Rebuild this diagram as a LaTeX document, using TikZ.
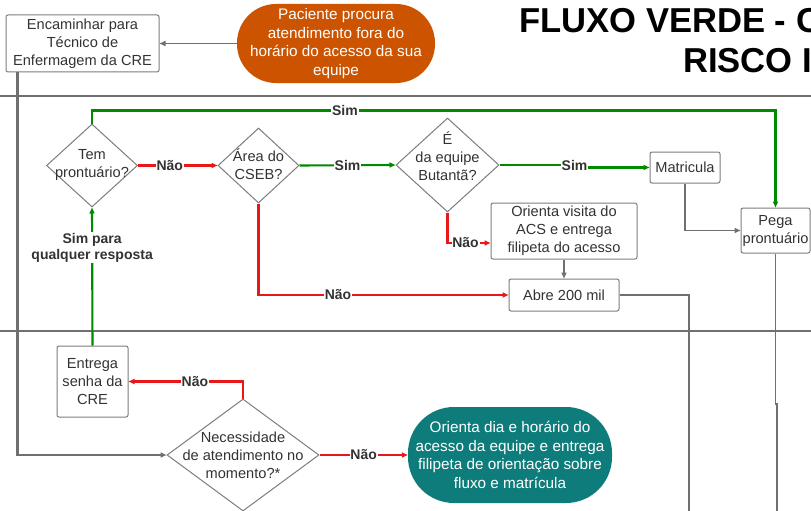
\documentclass[tikz,border=0pt]{standalone}
\usepackage{fontspec}
\setmainfont{Liberation Sans}
\usetikzlibrary{shapes.geometric,arrows.meta}
\definecolor{txtc}{RGB}{51,51,51}
\definecolor{bordc}{RGB}{125,125,125}
\definecolor{linec}{RGB}{112,112,112}
\definecolor{redc}{RGB}{232,24,24}
\definecolor{greenc}{RGB}{0,138,0}
\definecolor{orangec}{RGB}{204,84,0}
\definecolor{tealc}{RGB}{14,124,122}
\tikzset{
  boxtxt/.style={font=\fontsize{14.6}{18}\selectfont, text=txtc, align=center},
  box/.style={boxtxt, draw=bordc, line width=1pt, rounded corners=2pt, fill=white, inner sep=0pt},
  dia/.style={diamond, draw=bordc, line width=1pt, inner sep=0pt},
  diatxt/.style={boxtxt, inner sep=0pt},
  term/.style={font=\fontsize{15.3}{18.5}\selectfont, text=white, align=center, inner sep=0pt},
  lbl/.style={font=\fontsize{14}{16}\bfseries, text=txtc, fill=white, inner sep=0.8pt, align=center},
  tip/.style={-{Triangle[length=6pt,width=5pt]}},
  redline/.style={tip, draw=redc, line width=2.1pt},
  greenline/.style={tip, draw=greenc, line width=2.1pt},
  grayline/.style={tip, draw=linec, line width=1.4pt},
  grayplain/.style={draw=linec, line width=1.6pt},
  lane/.style={draw=linec, line width=1.4pt}
}
\begin{document}
\begin{tikzpicture}[x=1pt,y=-1pt]
\useasboundingbox (0,0) rectangle (811,511);
\clip (0,0) rectangle (811,511);
\fill[white] (0,0) rectangle (811,511);

% lanes
\draw[lane] (0,96) -- (811,96);
\draw[lane] (0,331) -- (811,331);

% title
\node[font=\fontsize{34.6}{40}\bfseries, anchor=base west, inner sep=0pt] (t1) at (519,33) {FLUXO VERDE - C};
\node[font=\fontsize{34.6}{40}\bfseries, anchor=base west, inner sep=0pt] (t2) at (683,73) {RISCO I};

% top lane
\node[box, minimum width=153pt, minimum height=57pt] (enc) at (82.5,43.5) {Encaminhar para\\Técnico de\\Enfermagem da CRE};
\node[term, fill=orangec, minimum width=198pt, minimum height=79pt, rounded corners=39pt] (pac) at (336,43.5) {Paciente procura\\atendimento fora do\\horário do acesso da sua\\equipe};

% middle lane
\node[dia, minimum width=91pt, minimum height=83pt] (tem) at (92,165.5) {};
\node[diatxt] (temt) at (92,164.5) {Tem\\prontuário?};
\node[dia, minimum width=81pt, minimum height=75pt] (area) at (258.5,165.5) {};
\node[diatxt] (areat) at (258.5,164.5) {Área do\\CSEB?};
\node[dia, minimum width=103pt, minimum height=94pt] (equ) at (447.5,165) {};
\node[diatxt] (equt) at (447.5,156.5) {É\\da equipe\\Butantã?};
\node[box, minimum width=70pt, minimum height=31pt] (mat) at (685,167.5) {Matricula};
\node[box, minimum width=69pt, minimum height=45pt] (pega) at (775.5,230.5) {Pega\\prontuário};
\node[box, minimum width=146pt, minimum height=56pt] (orv) at (564,231) {Orienta visita do\\ACS e entrega\\filipeta do acesso};
\node[box, minimum width=110pt, minimum height=32pt] (abre) at (564,295) {Abre 200 mil};

% bottom lane
\node[box, minimum width=71pt, minimum height=71pt] (ent) at (92.5,381.5) {Entrega\\senha da\\CRE};
\node[dia, minimum width=152pt, minimum height=112pt] (nec) at (243,455) {};
\node[diatxt] (nect) at (243,455) {Necessidade\\de atendimento no\\momento?*};
\node[term, fill=tealc, minimum width=204pt, minimum height=96pt, rounded corners=46pt] (od) at (510,455) {Orienta dia e horário do\\acesso da equipe e entrega\\filipeta de orientação sobre\\fluxo e matrícula};

\coordinate (e1) at (689,515);
\coordinate (p1) at (775.5,404);
\coordinate (p2) at (777,404);
\coordinate (e2) at (777,515);

% connectors
\draw[grayline] (pac.west) -- (enc.east);
\draw[tip, draw=linec, line width=2.8pt] ([xshift=12pt]enc.south west) |- (nec.west);
\draw[greenline] (tem.north) -- ++(0,-13) -| node[lbl, pos=0.185] {Sim} (pega.north);
\draw[redline] (tem.east) -- node[lbl, pos=0.4] {Não} (area.west);
\draw[greenline] (area.east) -- node[lbl] {Sim} (equ.west);
\draw[greenline] (equ.east) -- ++(75,0) node[lbl] {Sim} |- (mat.west);
\draw[redline] (equ.south) |- node[lbl, pos=0.71] {Não} ([yshift=-12pt]orv.west);
\draw[grayline] (orv.south) -- (abre.north);
\draw[redline] (area.south) |- node[lbl, pos=0.659] {Não} (abre.west);
\draw[grayline] (mat.south) |- (pega.west);
\draw[grayplain] (abre.east) -| (e1);
\draw[grayplain] (pega.south) -- (p1) -- (p2) -- (e2);
\draw[greenline] (ent.north) -- node[lbl, pos=0.71] {Sim para\\qualquer resposta} (tem.south);
\draw[redline] (nec.north) |- node[lbl, pos=0.71] {Não} (ent.east);
\draw[redline] (nec.east) -- node[lbl] {Não} (od.west);
\end{tikzpicture}
\end{document}
